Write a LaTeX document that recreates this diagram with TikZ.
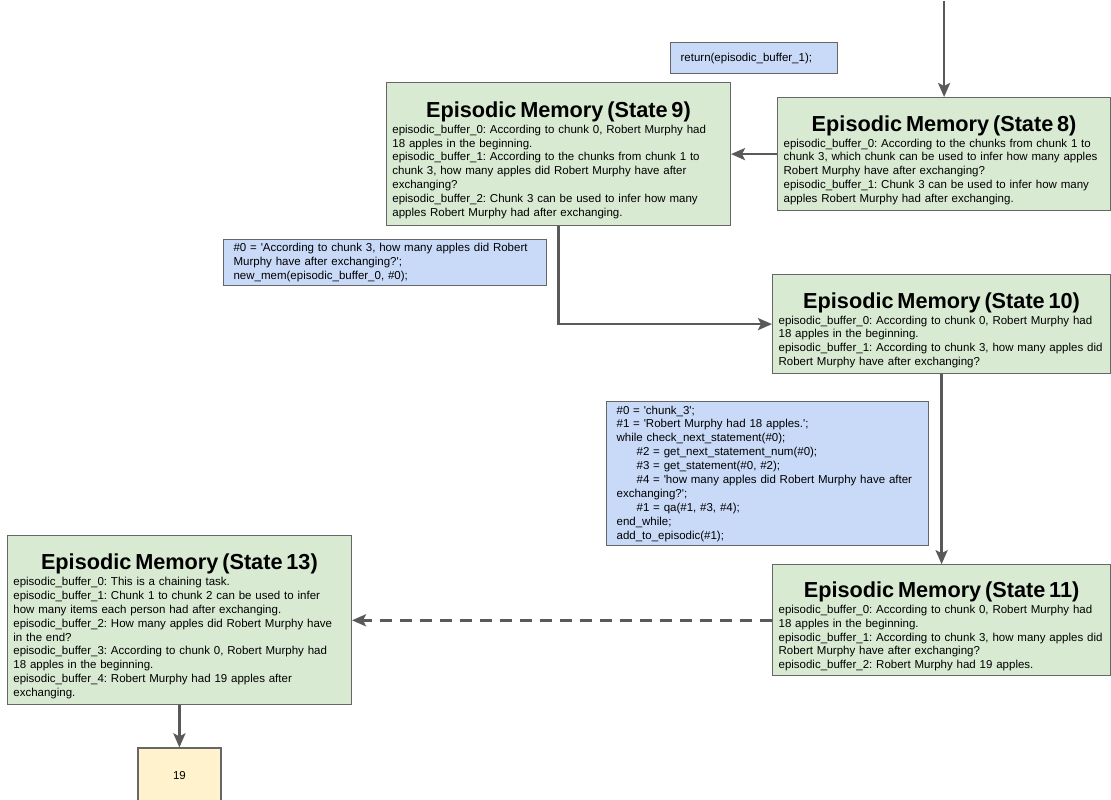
\documentclass[tikz,border=0pt]{standalone}
\usepackage{fontspec}
\setmainfont{Liberation Sans}
\usetikzlibrary{arrows.meta,positioning}
\usepackage{xcolor}
\frenchspacing

\definecolor{memgreen}{HTML}{D9EAD3}
\definecolor{codeblue}{HTML}{C9DAF8}
\definecolor{ansyellow}{HTML}{FFF2CC}
\definecolor{boxgray}{HTML}{666666}
\definecolor{arrowgray}{HTML}{595959}

\newcommand{\squote}{\textquotesingle}
\newcommand{\memtitle}[1]{\makebox[\linewidth]{\rule{0pt}{28pt}\fontsize{21.7}{24}\selectfont\bfseries #1}\\[2pt]}

\begin{document}
\begin{tikzpicture}[
    x=1pt, y=-1pt,
    >={Stealth[length=14pt,width=12pt,inset=3pt]},
    every node/.style={font=\fontsize{11.5}{13.9}\selectfont},
    memory/.style={draw=boxgray, line width=1.2pt, fill=memgreen, align=left, inner xsep=6pt, inner ysep=4pt},
    code/.style={draw=boxgray, line width=1.2pt, fill=codeblue, align=left, inner xsep=10pt, inner ysep=3pt, anchor=north west},
    answer/.style={draw=boxgray, line width=1.2pt, fill=ansyellow, minimum width=83pt, minimum height=56pt},
    flow/.style={->, draw=arrowgray, line width=2.6pt}
  ]
  \useasboundingbox (0,0) rectangle (1111,800);

  % states 8 and 9
  \node[memory, anchor=north west, text width=321pt, minimum height=113pt] (s8) at (777,97) {
    \memtitle{Episodic Memory (State 8)}
    episodic\_buffer\_0: According to the chunks from chunk 1 to\\
    chunk 3, which chunk can be used to infer how many apples\\
    Robert Murphy have after exchanging?\\
    episodic\_buffer\_1: Chunk 3 can be used to infer how many\\
    apples Robert Murphy had after exchanging.};
  \node[memory, text width=332pt, minimum height=143pt, left=46pt of s8] (s9) {
    \memtitle{Episodic Memory (State 9)}
    episodic\_buffer\_0: According to chunk 0, Robert Murphy had\\
    18 apples in the beginning.\\
    episodic\_buffer\_1: According to the chunks from chunk 1 to\\
    chunk 3, how many apples did Robert Murphy have after\\
    exchanging?\\
    episodic\_buffer\_2: Chunk 3 can be used to infer how many\\
    apples Robert Murphy had after exchanging.};
  \node[code, text width=147pt, minimum height=31pt] (ret) at (670,42) {return(episodic\_buffer\_1);};

  % states 10 and 11
  \node[memory, anchor=north west, text width=326pt, minimum height=99pt] (s10) at (772,274) {
    \memtitle{Episodic Memory (State 10)}
    episodic\_buffer\_0: According to chunk 0, Robert Murphy had\\
    18 apples in the beginning.\\
    episodic\_buffer\_1: According to chunk 3, how many apples did\\
    Robert Murphy have after exchanging?};
  \node[memory, text width=326pt, minimum height=111pt, below=190pt of s10] (s11) {
    \memtitle{Episodic Memory (State 11)}
    episodic\_buffer\_0: According to chunk 0, Robert Murphy had\\
    18 apples in the beginning.\\
    episodic\_buffer\_1: According to chunk 3, how many apples did\\
    Robert Murphy have after exchanging?\\
    episodic\_buffer\_2: Robert Murphy had 19 apples.};
  \node[code, text width=303pt, minimum height=46pt] (newmem) at (223,239) {
    \#0 = \squote According to chunk 3, how many apples did Robert\\
    Murphy have after exchanging?\squote;\\
    new\_mem(episodic\_buffer\_0, \#0);};
  \node[code, text width=302pt, minimum height=144pt] (loop) at (606,401) {
    \#0 = \squote chunk\_3\squote;\\
    \#1 = \squote Robert Murphy had 18 apples.\squote;\\
    while check\_next\_statement(\#0);\\
    \hspace*{20pt}\#2 = get\_next\_statement\_num(\#0);\\
    \hspace*{20pt}\#3 = get\_statement(\#0, \#2);\\
    \hspace*{20pt}\#4 = \squote how many apples did Robert Murphy have after\\
    exchanging?\squote;\\
    \hspace*{20pt}\#1 = qa(\#1, \#3, \#4);\\
    end\_while;\\
    add\_to\_episodic(\#1);};

  % state 13 and answer
  \node[memory, text width=332pt, minimum height=169pt, left=420pt of s11] (s13) {
    \memtitle{Episodic Memory (State 13)}
    episodic\_buffer\_0: This is a chaining task.\\
    episodic\_buffer\_1: Chunk 1 to chunk 2 can be used to infer\\
    how many items each person had after exchanging.\\
    episodic\_buffer\_2: How many apples did Robert Murphy have\\
    in the end?\\
    episodic\_buffer\_3: According to chunk 0, Robert Murphy had\\
    18 apples in the beginning.\\
    episodic\_buffer\_4: Robert Murphy had 19 apples after\\
    exchanging.};
  \node[answer, below=42pt of s13] (ans) {19};

  \coordinate[above=96pt of s8] (entry);
  \draw[flow] (entry) -- (s8);
  \draw[flow] (s8) -- (s9);
  \draw[flow] (s9.south) |- (s10.west);
  \draw[flow] (s10) -- (s11);
  \draw[flow, dash pattern=on 12pt off 8pt] (s11) -- (s13);
  \draw[flow] (s13) -- (ans);
\end{tikzpicture}
\end{document}
